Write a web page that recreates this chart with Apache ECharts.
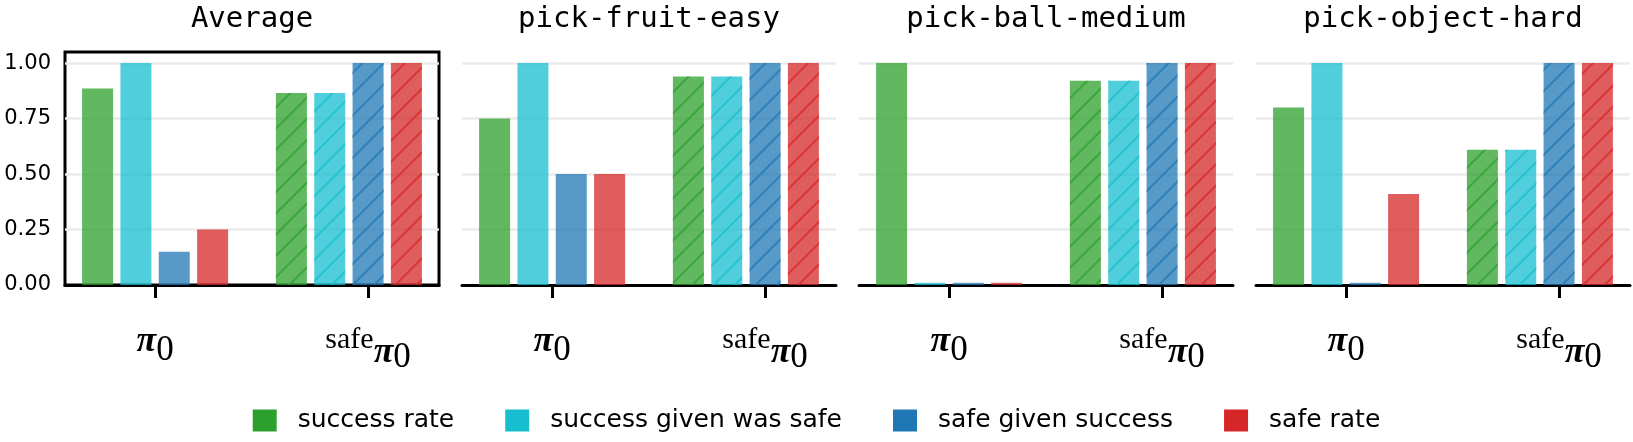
<!DOCTYPE html>
<html><head><meta charset="utf-8">
<script src="https://cdn.jsdelivr.net/npm/echarts@6/dist/echarts.min.js"></script>
<style>html,body{margin:0;padding:0;background:#fff}#c{width:1633px;height:442px}</style>
</head><body><div id="c"></div>
<script>
// ---------- data ----------
const panelTitles = ['Average', 'pick-fruit-easy', 'pick-ball-medium', 'pick-object-hard'];
const metricNames = ['success rate', 'success given was safe', 'safe given success', 'safe rate'];
const modelNames = ['pi0', 'safe pi0'];
// values per panel (Average, fruit, ball, object)
const pi0SuccessRate        = [0.885, 0.75, 1.00, 0.80];
const pi0SuccessGivenSafe   = [1.00, 1.00, 0.01, 1.00];
const pi0SafeGivenSuccess   = [0.15, 0.50, 0.01, 0.01];
const pi0SafeRate           = [0.25, 0.50, 0.01, 0.41];
const safePi0SuccessRate      = [0.865, 0.94, 0.92, 0.61];
const safePi0SuccessGivenSafe = [0.865, 0.94, 0.92, 0.61];
const safePi0SafeGivenSuccess = [1.00, 1.00, 1.00, 1.00];
const safePi0SafeRate         = [1.00, 1.00, 1.00, 1.00];
const yTickValues = [0, 0.25, 0.5, 0.75, 1.0];
const modelTickValues = [0, 1];

// ---------- styling / layout ----------
const colors = ['#2ca02c', '#17becf', '#1f77b4', '#d62728'];
const pi0Metric = [pi0SuccessRate, pi0SuccessGivenSafe, pi0SafeGivenSuccess, pi0SafeRate];
const safeMetric = [safePi0SuccessRate, safePi0SuccessGivenSafe, safePi0SafeGivenSuccess, safePi0SafeRate];
const offsets0 = [-0.27, -0.09, 0.09, 0.27];
const offsets1 = [-0.36, -0.18, 0.0, 0.18];
const gridLefts = [65, 462, 859, 1256];
const gridW = 374, gridTop = 51, gridH = 234;
const X_MIN = -0.423, X_MAX = 1.333;

const serif = 'Liberation Serif';
const LH = 50;
const richStyles = {
  p:   { fontFamily: serif, fontStyle: 'italic', fontWeight: 'bold', fontSize: 36, lineHeight: LH, color: '#000' },
  s:   { fontFamily: serif, fontSize: 35, lineHeight: LH, padding: [17, 0, 0, 0], color: '#000' },
  sup: { fontFamily: serif, fontSize: 30, lineHeight: LH, padding: [0, 0, 4, 0], color: '#000' },
  p2:  { fontFamily: serif, fontStyle: 'italic', fontWeight: 'bold', fontSize: 36, lineHeight: LH, padding: [22, 0, 0, 0], color: '#000' },
  s2:  { fontFamily: serif, fontSize: 35, lineHeight: LH, padding: [31, 0, 0, 0], color: '#000' }
};

const grids = [], xAxes = [], yAxes = [], series = [];
panelTitles.forEach((t, p) => {
  grids.push(p === 0
    ? { left: gridLefts[p], top: gridTop, width: gridW, height: gridH, show: true, borderColor: '#000', borderWidth: 3, backgroundColor: 'transparent' }
    : { left: gridLefts[p], top: gridTop, width: gridW, height: gridH });
  xAxes.push({
    gridIndex: p, type: 'value', min: X_MIN, max: X_MAX, position: 'bottom',
    axisLine: { show: true, onZero: false, lineStyle: { color: '#000', width: 3 } },
    axisTick: { show: true, customValues: modelTickValues, length: 13, lineStyle: { color: '#000', width: 3 } },
    splitLine: { show: false },
    axisLabel: {
      show: true, customValues: modelTickValues, margin: 32,
      formatter: v => v === 0 ? '{p|π}{s|0}' : '{sup|safe}{p2|π}{s2|0}',
      rich: richStyles
    }
  });
  xAxes.push({
    gridIndex: p, type: 'value', min: X_MIN, max: X_MAX, position: 'top',
    axisLine: { show: false }, axisTick: { show: false }, axisLabel: { show: false }, splitLine: { show: false },
    name: t, nameLocation: 'middle', nameGap: 18,
    nameTextStyle: { fontFamily: 'DejaVu Sans Mono', fontSize: 29, color: '#000' }
  });
  yAxes.push({
    gridIndex: p, type: 'value', min: 0, max: 1.05, interval: 0.25,
    axisLine: { show: false }, axisTick: { show: false },
    splitLine: { show: true, showMaxLine: false, lineStyle: { color: '#ebebeb', width: 2.5 } },
    axisLabel: {
      show: p === 0, customValues: yTickValues, margin: 14,
      formatter: v => v.toFixed(2),
      fontFamily: 'DejaVu Sans', fontSize: 21, color: '#000'
    }
  });
  metricNames.forEach((m, k) => {
    series.push({
      type: 'bar', name: m, xAxisIndex: 2 * p, yAxisIndex: p,
      barWidth: 31, barGap: '-100%',
      itemStyle: { color: colors[k], opacity: 0.75 },
      emphasis: { disabled: true },
      data: [
        { value: [0 + offsets0[k], pi0Metric[k][p]] },
        { value: [1 + offsets1[k], safeMetric[k][p]],
          itemStyle: { decal: { symbol: 'rect', symbolSize: 1, color: colors[k], dashArrayX: [1, 0], dashArrayY: [2, 13], rotation: -Math.PI / 4 } } }
      ]
    });
  });
});

const chart = echarts.init(document.getElementById('c'), null, { renderer: 'canvas' });
chart.setOption({
  animation: false,
  backgroundColor: '#fff',
  grid: grids, xAxis: xAxes, yAxis: yAxes, series: series,
  legend: {
    left: 'center', top: 403, icon: 'rect', itemWidth: 24, itemHeight: 22, itemGap: 51,
    selectedMode: false,
    textStyle: { fontFamily: 'DejaVu Sans', fontSize: 25, color: '#000', padding: [0, 0, 0, 16] },
    data: metricNames.map((n, i) => ({ name: n, itemStyle: { color: colors[i], opacity: 1 } }))
  }
});
</script></body></html>
